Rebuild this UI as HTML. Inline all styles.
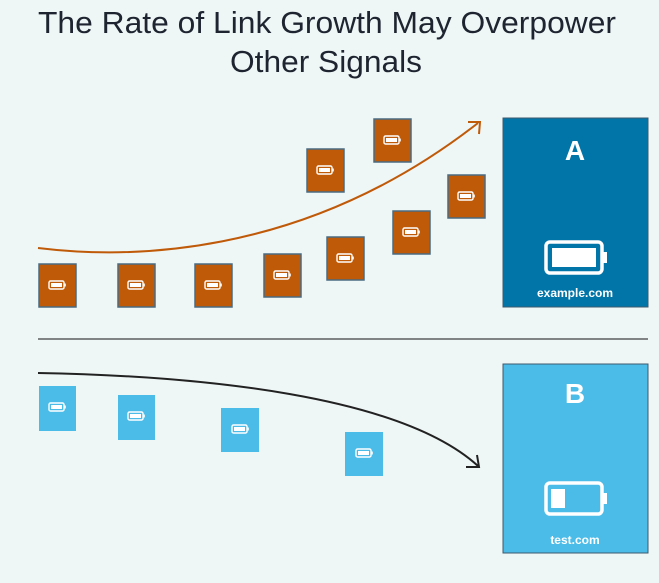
<!DOCTYPE html>
<html><head><style>
html,body{margin:0;padding:0;background:#eff6f6;}
svg{display:block;}
</style></head><body>
<svg width="659" height="583" viewBox="0 0 659 583" xmlns="http://www.w3.org/2000/svg">
<defs>
<g id="bat">
<rect x="-8" y="-4" width="15" height="8" rx="1.5" fill="none" stroke="#fff" stroke-width="1.4"/>
<rect x="-6" y="-2" width="11" height="4" fill="#fff"/>
<rect x="7.3" y="-1.5" width="1.5" height="3" fill="#fff"/>
</g>
</defs>
<rect width="659" height="583" fill="#eff6f6"/>
<text x="327" y="33" font-family="Liberation Sans, sans-serif" font-size="31" fill="#1e2530" text-anchor="middle" textLength="578" lengthAdjust="spacingAndGlyphs">The Rate of Link Growth May Overpower</text>
<text x="326" y="72" font-family="Liberation Sans, sans-serif" font-size="31" fill="#1e2530" text-anchor="middle" textLength="192" lengthAdjust="spacingAndGlyphs">Other Signals</text>

<g fill="#bf5a09" stroke="#4a6b80" stroke-width="1.5">
<rect x="39" y="264" width="37" height="43"/>
<rect x="118" y="264" width="37" height="43"/>
<rect x="195" y="264" width="37" height="43"/>
<rect x="264" y="254" width="37" height="43"/>
<rect x="327" y="237" width="37" height="43"/>
<rect x="393" y="211" width="37" height="43"/>
<rect x="448" y="175" width="37" height="43"/>
<rect x="307" y="149" width="37" height="43"/>
<rect x="374" y="119" width="37" height="43"/>
</g>
<use href="#bat" x="57" y="285"/>
<use href="#bat" x="136" y="285"/>
<use href="#bat" x="213" y="285"/>
<use href="#bat" x="282" y="275"/>
<use href="#bat" x="345" y="258"/>
<use href="#bat" x="411" y="232"/>
<use href="#bat" x="466" y="196"/>
<use href="#bat" x="325" y="170"/>
<use href="#bat" x="392" y="140"/>

<path d="M38 248 C120 258 300 262 478 123" fill="none" stroke="#bf5a09" stroke-width="2"/>
<path d="M468 122 L480 122 L479 134" fill="none" stroke="#bf5a09" stroke-width="2"/>

<rect x="503" y="118" width="145" height="189" fill="#0174a8" stroke="#3d5a6e" stroke-width="1"/>
<text x="575" y="160" font-family="Liberation Sans, sans-serif" font-size="28" font-weight="bold" fill="#fff" text-anchor="middle">A</text>
<rect x="546" y="242" width="56" height="31" rx="4" fill="none" stroke="#fff" stroke-width="3.5"/>
<rect x="552" y="248" width="44" height="19" fill="#fff"/>
<rect x="603" y="252" width="4" height="11" fill="#fff"/>
<text x="575" y="297" font-family="Liberation Sans, sans-serif" font-size="12" font-weight="bold" fill="#fff" text-anchor="middle">example.com</text>

<line x1="38" y1="339" x2="648" y2="339" stroke="#111" stroke-width="1"/>

<g fill="#4bbce8">
<rect x="39" y="386" width="37" height="45"/>
<rect x="118" y="395" width="37" height="45"/>
<rect x="221" y="408" width="38" height="44"/>
<rect x="345" y="432" width="38" height="44"/>
</g>
<use href="#bat" x="57" y="407"/>
<use href="#bat" x="136" y="416"/>
<use href="#bat" x="240" y="429"/>
<use href="#bat" x="364" y="453"/>

<path d="M38 373 C200 376 400 395 478 466" fill="none" stroke="#222" stroke-width="2"/>
<path d="M466 467 L479 467 L477 455" fill="none" stroke="#222" stroke-width="2"/>

<rect x="503" y="364" width="145" height="189" fill="#4bbce8" stroke="#3d5a6e" stroke-width="1"/>
<text x="575" y="403" font-family="Liberation Sans, sans-serif" font-size="28" font-weight="bold" fill="#fff" text-anchor="middle">B</text>
<rect x="546" y="483" width="56" height="31" rx="4" fill="none" stroke="#fff" stroke-width="3.5"/>
<rect x="551" y="489" width="14" height="19" fill="#fff"/>
<rect x="603" y="493" width="4" height="11" fill="#fff"/>
<text x="575" y="544" font-family="Liberation Sans, sans-serif" font-size="12" font-weight="bold" fill="#fff" text-anchor="middle">test.com</text>
</svg>
</body></html>
